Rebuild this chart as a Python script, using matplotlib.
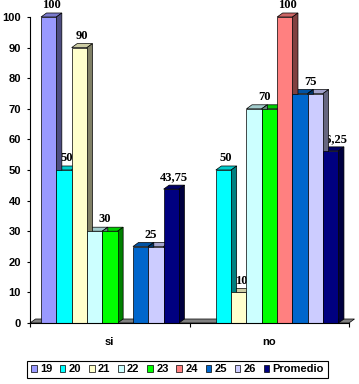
import matplotlib
matplotlib.use('Agg')
import matplotlib.pyplot as plt
from matplotlib.patches import Polygon, Patch
from matplotlib.colors import to_rgb
import numpy as np

plt.rcParams['font.family'] = ['Liberation Sans', 'DejaVu Sans']
plt.rcParams['font.weight'] = 'bold'

# datos
categories = ['si', 'no']
series = ['19', '20', '21', '22', '23', '24', '25', '26', 'Promedio']
values_si = [100, 50, 90, 30, 30, 0, 25, 25, 43.75]
values_no = [0, 50, 10, 70, 70, 100, 75, 75, 56.25]
colors = ['#9999FF', '#00FFFF', '#FFFFCC', '#CCFFFF', '#00FF00',
          '#FF8080', '#0066CC', '#CCCCFF', '#000080']

fig = plt.figure(figsize=(3.59, 3.84), dpi=100)
ax = fig.add_axes([30 / 359, 61 / 384, 319 / 359, 306 / 384])
ax.set_xlim(0, 2)
ax.set_ylim(0, 100)

BW = 0.0961   # ancho de barra
X0 = 0.069    # margen izquierdo del grupo
DX = 0.0345   # profundidad en x
DY = 1.31     # profundidad en y


def fmt(v):
    return f'{v:g}'.replace('.', ',')


# piso gris
ax.add_patch(Polygon([(0, 0), (2, 0), (2 + DX, DY), (DX, DY)], closed=True,
                     fc='#808080', ec='black', lw=0.5, zorder=1, clip_on=False))

for gi, vals in enumerate([values_si, values_no]):
    lefts = gi + X0 + np.arange(len(series)) * BW
    ax.bar(lefts, vals, width=BW, align='edge', color=colors,
           edgecolor='black', linewidth=0.5, zorder=4)
    for x, h, c in zip(lefts, vals, colors):
        if h <= 0:
            continue
        rgb = np.array(to_rgb(c))
        ax.add_patch(Polygon([(x, h), (x + BW, h), (x + BW + DX, h + DY), (x + DX, h + DY)],
                             closed=True, fc=rgb * 0.8, ec='black', lw=0.5,
                             zorder=2, clip_on=False))
        ax.add_patch(Polygon([(x + BW, 0), (x + BW + DX, DY), (x + BW + DX, h + DY), (x + BW, h)],
                             closed=True, fc=rgb * 0.5, ec='black', lw=0.5,
                             zorder=3, clip_on=False))
    # etiquetas (una por grupo de valores iguales consecutivos)
    j = 0
    while j < len(vals):
        k = j
        while k + 1 < len(vals) and vals[k + 1] == vals[j]:
            k += 1
        if vals[j] > 0:
            xc = (lefts[j] + lefts[k] + BW + DX) / 2
            ax.text(xc, vals[j] + DY + 0.6, fmt(vals[j]), ha='center', va='bottom',
                    fontsize=9, fontweight='bold', family='Liberation Serif',
                    zorder=1.5, clip_on=False)
        j = k + 1

for s in ['top', 'right']:
    ax.spines[s].set_visible(False)
for s in ['left', 'bottom']:
    ax.spines[s].set_linewidth(0.8)
    ax.spines[s].set_zorder(5)

ax.set_yticks(range(0, 101, 10))
ax.tick_params(axis='y', direction='out', length=2.5, width=0.8, pad=4, labelsize=8)
ax.set_xticks([0, 1, 2])
ax.set_xticklabels(['', '', ''])
ax.set_xticks([0.5, 1.5], minor=True)
ax.set_xticklabels(categories, minor=True, fontsize=8, fontweight='bold')
ax.tick_params(axis='x', which='major', direction='out', length=3, width=0.8)
ax.tick_params(axis='x', which='minor', length=0, pad=10)

handles = [Patch(facecolor=c, edgecolor='black', linewidth=0.5) for c in colors]
leg = fig.legend(handles, series, loc='center', bbox_to_anchor=(177.5 / 359, 1 - 369.5 / 384),
                 ncol=9, fontsize=8, handlelength=0.5, handleheight=0.5,
                 handletextpad=0.3, columnspacing=0.7, borderpad=0.35,
                 fancybox=False, framealpha=1, edgecolor='black')
leg.get_frame().set_linewidth(0.8)

fig.savefig('out.png', dpi=100)
